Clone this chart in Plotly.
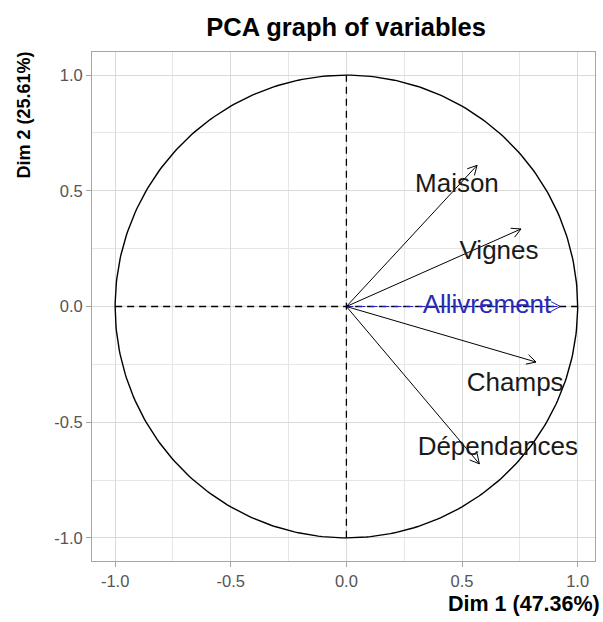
import numpy as np
import plotly.graph_objects as go

# coordinates of the variables on dim 1 / dim 2
variables = ["Maison", "Vignes", "Allivrement", "Champs", "Dépendances"]
dim1 = [0.565, 0.755, 0.925, 0.82, 0.575]
dim2 = [0.61, 0.335, 0.0, -0.24, -0.68]
supplementary = [False, False, True, False, False]

# where the labels sit
label_x = [0.478, 0.66, 0.608, 0.73, 0.655]
label_y = [0.525, 0.235, 0.0, -0.335, -0.615]

radius = 1.0
ticks = [-1.0, -0.5, 0.0, 0.5, 1.0]
tick_text = ["-1.0", "-0.5", "0.0", "0.5", "1.0"]

FONT = "Liberation Sans, Arial, sans-serif"

fig = go.Figure()

# correlation circle
theta = np.linspace(0, 2 * np.pi, 361)
fig.add_trace(go.Scatter(x=radius * np.cos(theta), y=radius * np.sin(theta), mode="lines",
                         line=dict(color="black", width=1.4), hoverinfo="skip"))

# axes through origin
fig.add_trace(go.Scatter(x=[-radius, radius], y=[0, 0], mode="lines",
                         line=dict(color="black", width=1.3, dash="7px,5px"), hoverinfo="skip"))
fig.add_trace(go.Scatter(x=[0, 0], y=[-radius, radius], mode="lines",
                         line=dict(color="black", width=1.3, dash="7px,5px"), hoverinfo="skip"))

def arrow_head(x, y, size=0.045, angle=np.deg2rad(28)):
    a = np.arctan2(y, x)
    xs = [x - size * np.cos(a - angle), x, x - size * np.cos(a + angle)]
    ys = [y - size * np.sin(a - angle), y, y - size * np.sin(a + angle)]
    return xs, ys

for name, x, y, sup in zip(variables, dim1, dim2, supplementary):
    col = "#2222bb" if sup else "black"
    fig.add_trace(go.Scatter(x=[0, x], y=[0, y], mode="lines",
                             line=dict(color=col, width=1, dash="7px,5px" if sup else "solid"),
                             hoverinfo="skip"))
    hx, hy = arrow_head(x, y)
    fig.add_trace(go.Scatter(x=hx, y=hy, mode="lines", line=dict(color=col, width=1),
                             hoverinfo="skip"))

colors = ["#2a2ab8" if s else "#1a1a1a" for s in supplementary]
fig.add_trace(go.Scatter(x=label_x, y=label_y, mode="text", text=variables,
                         textfont=dict(family=FONT, size=26, color=colors),
                         hoverinfo="skip"))

fig.update_layout(
    width=603, height=622,
    showlegend=False,
    plot_bgcolor="white", paper_bgcolor="white",
    margin=dict(l=92, r=8, t=52, b=61),
    font=dict(family=FONT, color="#4d4d4d"),
    title=dict(text="<b>PCA graph of variables</b>", x=0.574, xanchor="center",
               y=1 - 27 / 622, yanchor="middle",
               font=dict(size=25.5, color="black")),
)
axis_style = dict(tickvals=ticks, ticktext=tick_text,
                  showgrid=True, gridcolor="#dadada", gridwidth=1,
                  minor=dict(dtick=0.25, tick0=0.0, showgrid=True, gridcolor="#e6e6e6", gridwidth=1),
                  zeroline=False, showline=True, linecolor="#a6a6a6", mirror=True,
                  ticks="outside", ticklen=5, tickcolor="#a6a6a6",
                  tickfont=dict(size=16.5, color="#555555"))
fig.update_xaxes(range=[-1.1, 1.075], **axis_style)
fig.update_yaxes(range=[-1.1, 1.1], **axis_style)

fig.add_annotation(text="<b>Dim 1 (47.36%)</b>", xref="paper", yref="paper", x=1.0, y=0,
                   xanchor="right", yanchor="middle", xshift=7, yshift=-43, showarrow=False,
                   font=dict(size=21.5, color="black"))
fig.add_annotation(text="<b>Dim 2 (25.61%)</b>", xref="paper", yref="paper", x=0, y=1.0,
                   xanchor="center", yanchor="top", xshift=-69, yshift=2, textangle=-90,
                   showarrow=False, font=dict(size=18, color="black"))

fig.write_html("out.html", config={"displayModeBar": False},
               post_script="document.body.style.margin='0';")
